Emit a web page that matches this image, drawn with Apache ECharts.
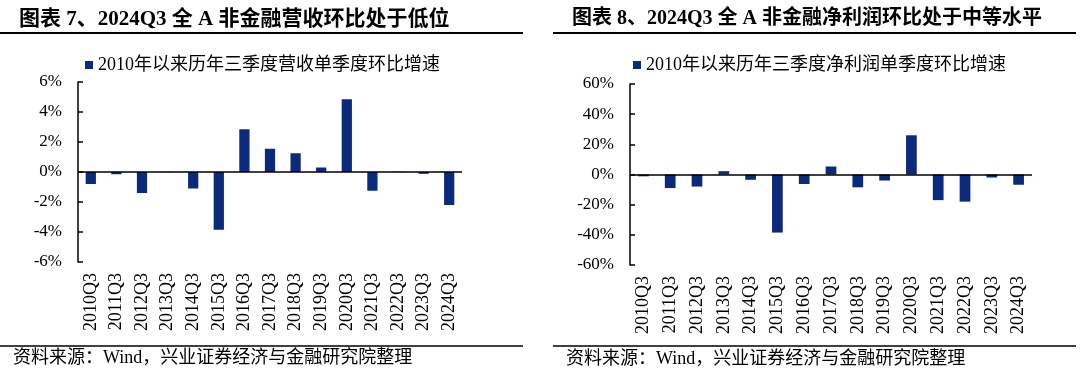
<!DOCTYPE html>
<html><head><meta charset="utf-8">
<script src="https://cdn.jsdelivr.net/npm/echarts@6/dist/echarts.min.js"></script>
<style>html,body{margin:0;padding:0;background:#fff}#c{width:1080px;height:380px}</style>
</head><body><div id="c"></div>
<script>
const categories = ['2010Q3','2011Q3','2012Q3','2013Q3','2014Q3','2015Q3','2016Q3','2017Q3','2018Q3','2019Q3','2020Q3','2021Q3','2022Q3','2023Q3','2024Q3'];
const revenueQoQ = [-0.8,-0.15,-1.4,0.01,-1.1,-3.85,2.85,1.55,1.25,0.3,4.85,-1.25,0.02,-0.12,-2.2];
const profitQoQ = [-1.2,-9,-8,2.2,-3.5,-38.5,-6.3,5.3,-8.5,-4,26,-17,-18,-2,-6.8];
const titleLeft = '图表 7、2024Q3 全 A 非金融营收环比处于低位';
const titleRight = '图表 8、2024Q3 全 A 非金融净利润环比处于中等水平';
const nameLeft = '2010年以来历年三季度营收单季度环比增速';
const nameRight = '2010年以来历年三季度净利润单季度环比增速';
const sourceText = '资料来源：Wind，兴业证券经济与金融研究院整理';

const FONT = '"Liberation Serif","Times New Roman","Noto Sans CJK SC",serif';
const BAR = '#0b2a7c';
const chart = echarts.init(document.getElementById('c'));

function yAxis(gi, min, max, step) {
  return {
    type: 'value', gridIndex: gi, min: min, max: max, interval: step,
    axisLine: {show: true, lineStyle: {color: '#000', width: 1.5}},
    axisTick: {show: true, inside: true, length: 5, lineStyle: {color: '#000', width: 1.5}},
    splitLine: {show: false},
    axisLabel: {formatter: '{value}%', color: '#000', fontFamily: FONT, fontSize: 17, margin: 16}
  };
}
function xAxis(gi) {
  return {
    type: 'category', gridIndex: gi, data: categories,
    axisLine: {show: false}, axisTick: {show: false},
    axisLabel: {rotate: 90, color: '#000', fontFamily: FONT, fontSize: 18, margin: 11, interval: 0}
  };
}
function series(name, data, gi) {
  return {
    name: name, type: 'bar', xAxisIndex: gi, yAxisIndex: gi, data: data,
    barWidth: '40%', itemStyle: {color: BAR},
    markLine: {silent: true, symbol: 'none', label: {show: false},
      lineStyle: {color: '#000', width: 1.5, type: 'solid'}, data: [{yAxis: 0}]}
  };
}

chart.setOption({
  animation: false,
  title: [
    {text: titleLeft, left: 14, top: 4, textStyle: {fontFamily: FONT, fontSize: 21, fontWeight: 'bold', color: '#000'}},
    {text: titleRight, left: 567, top: 4, textStyle: {fontFamily: FONT, fontSize: 20, fontWeight: 'bold', color: '#000'}}
  ],
  legend: [
    {data: [nameLeft], left: 80, top: 51, icon: 'rect', itemWidth: 8, itemHeight: 8,
     textStyle: {fontFamily: FONT, fontSize: 18, color: '#000'}},
    {data: [nameRight], left: 628, top: 51, icon: 'rect', itemWidth: 8, itemHeight: 8,
     textStyle: {fontFamily: FONT, fontSize: 18, color: '#000'}}
  ],
  grid: [
    {left: 78, top: 82, width: 384, height: 180},
    {left: 630, top: 84, width: 402, height: 181}
  ],
  xAxis: [xAxis(0), xAxis(1)],
  yAxis: [yAxis(0, -6, 6, 2), yAxis(1, -60, 60, 20)],
  series: [series(nameLeft, revenueQoQ, 0), series(nameRight, profitQoQ, 1)],
  graphic: [
    {type: 'line', shape: {x1: 0, y1: 33, x2: 523, y2: 33}, style: {stroke: '#000', lineWidth: 2}},
    {type: 'line', shape: {x1: 553, y1: 33, x2: 1076, y2: 33}, style: {stroke: '#000', lineWidth: 2}},
    {type: 'line', shape: {x1: 0, y1: 346, x2: 523, y2: 346}, style: {stroke: '#000', lineWidth: 1.5}},
    {type: 'line', shape: {x1: 553, y1: 346, x2: 1076, y2: 346}, style: {stroke: '#000', lineWidth: 1.5}},
    {type: 'text', left: 13, top: 349, style: {text: sourceText, font: '18px ' + FONT, fill: '#000'}},
    {type: 'text', left: 566, top: 350, style: {text: sourceText, font: '18px ' + FONT, fill: '#000'}}
  ]
});
</script></body></html>
